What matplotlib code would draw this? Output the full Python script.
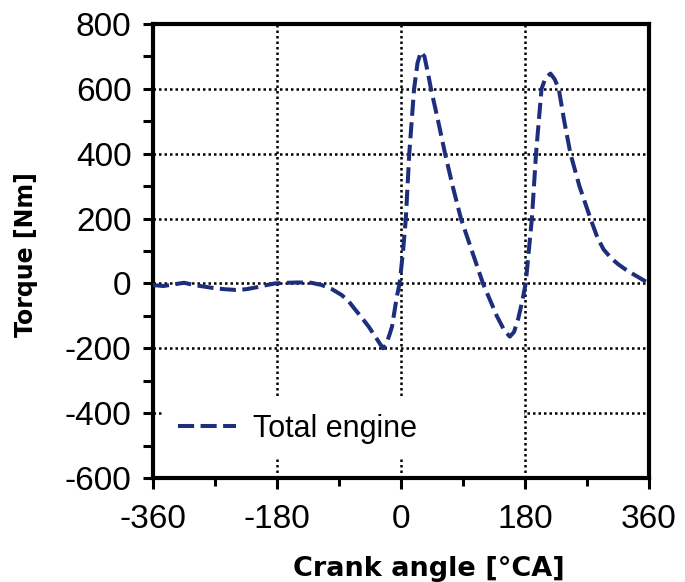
import matplotlib
matplotlib.use("Agg")
import matplotlib.pyplot as plt
from matplotlib.patches import Rectangle

plt.rcParams['font.family'] = ['Liberation Sans', 'DejaVu Sans']
plt.rcParams['axes.unicode_minus'] = False

crank_angle = [-360, -345, -330, -315, -300, -285, -270, -255, -240, -225, -210, -195,
               -183, -165, -150, -130, -115, -100, -86, -76, -66, -56, -47, -37,
               -30, -26, -22, -17, -13, -6, -2, 3, 7, 12, 19, 24, 29, 34, 39, 43.5,
               54, 64, 75, 87, 103, 119, 139, 150, 158, 164, 170, 176, 181,
               190, 196, 204, 210, 217, 223, 229, 237, 246, 259, 275, 285, 294,
               305, 316, 328, 340, 352, 360]
torque = [-5, -8, -3, 2, -5, -10, -15, -18, -20, -18, -12, -5,
          0, 2, 3, 2, -5, -18, -36, -55, -82, -108, -133, -165,
          -188, -200, -190, -160, -133, -40, 0, 100, 200, 400, 600, 680, 714, 700, 650, 600,
          500, 400, 300, 200, 100, 0, -100, -145, -164, -150, -110, -55, 0,
          200, 400, 600, 635, 647, 630, 600, 500, 400, 300, 200, 142, 105,
          78, 58, 40, 25, 10, 0]

xticks = [-360, -180, 0, 180, 360]
yticks = [-600, -400, -200, 0, 200, 400, 600, 800]
legend_label = "Total engine"

fig = plt.figure(figsize=(6.85, 5.82), dpi=100)
L, R, T, B = 153, 649, 24, 478
ax = fig.add_axes([L/685, 1 - B/582, (R-L)/685, (B-T)/582])
ax.plot(crank_angle, torque, color='#1d2e7c', lw=2.9, dashes=(4.0, 1.6), label=legend_label, zorder=3)
ax.set_xlim(-360, 360)
ax.set_ylim(-600, 800)
ax.set_xticks(xticks)
ax.set_yticks(yticks)
ax.set_xticks([-270, -90, 90, 270], minor=True)
ax.set_yticks([-500, -300, -100, 100, 300, 500, 700], minor=True)
ax.tick_params(which='both', direction='out', width=2.2, labelsize=24)
ax.tick_params(axis='x', which='major', length=8, pad=11)
ax.tick_params(axis='x', which='minor', length=6)
ax.tick_params(axis='y', which='both', length=7.5, pad=8)
ax.grid(True, which='major', color='black', linestyle=(0, (1, 1.2)), linewidth=1.8)
for s in ax.spines.values():
    s.set_linewidth(3)
ax.set_axisbelow(True)
ax.set_xlabel("Crank angle [°CA]", fontsize=19.5, fontweight='bold', family='DejaVu Sans')
ax.set_ylabel("Torque [Nm]", fontsize=17, fontweight='bold', family='DejaVu Sans')
ax.xaxis.set_label_coords((429 - L) / (R - L), (B - 556) / (B - T))
ax.yaxis.set_label_coords((38 - L) / (R - L), (B - 255) / (B - T))
ax.add_patch(Rectangle((0.02, 0.046), 0.728, 0.13, transform=ax.transAxes,
                       facecolor='white', edgecolor='none', zorder=2))
leg = ax.legend(loc='center left', bbox_to_anchor=(0.05, 0.108), frameon=False, fontsize=22,
                handlelength=1.9, handletextpad=0.55, borderpad=0, borderaxespad=0)
fig.savefig("out.png", dpi=100)
